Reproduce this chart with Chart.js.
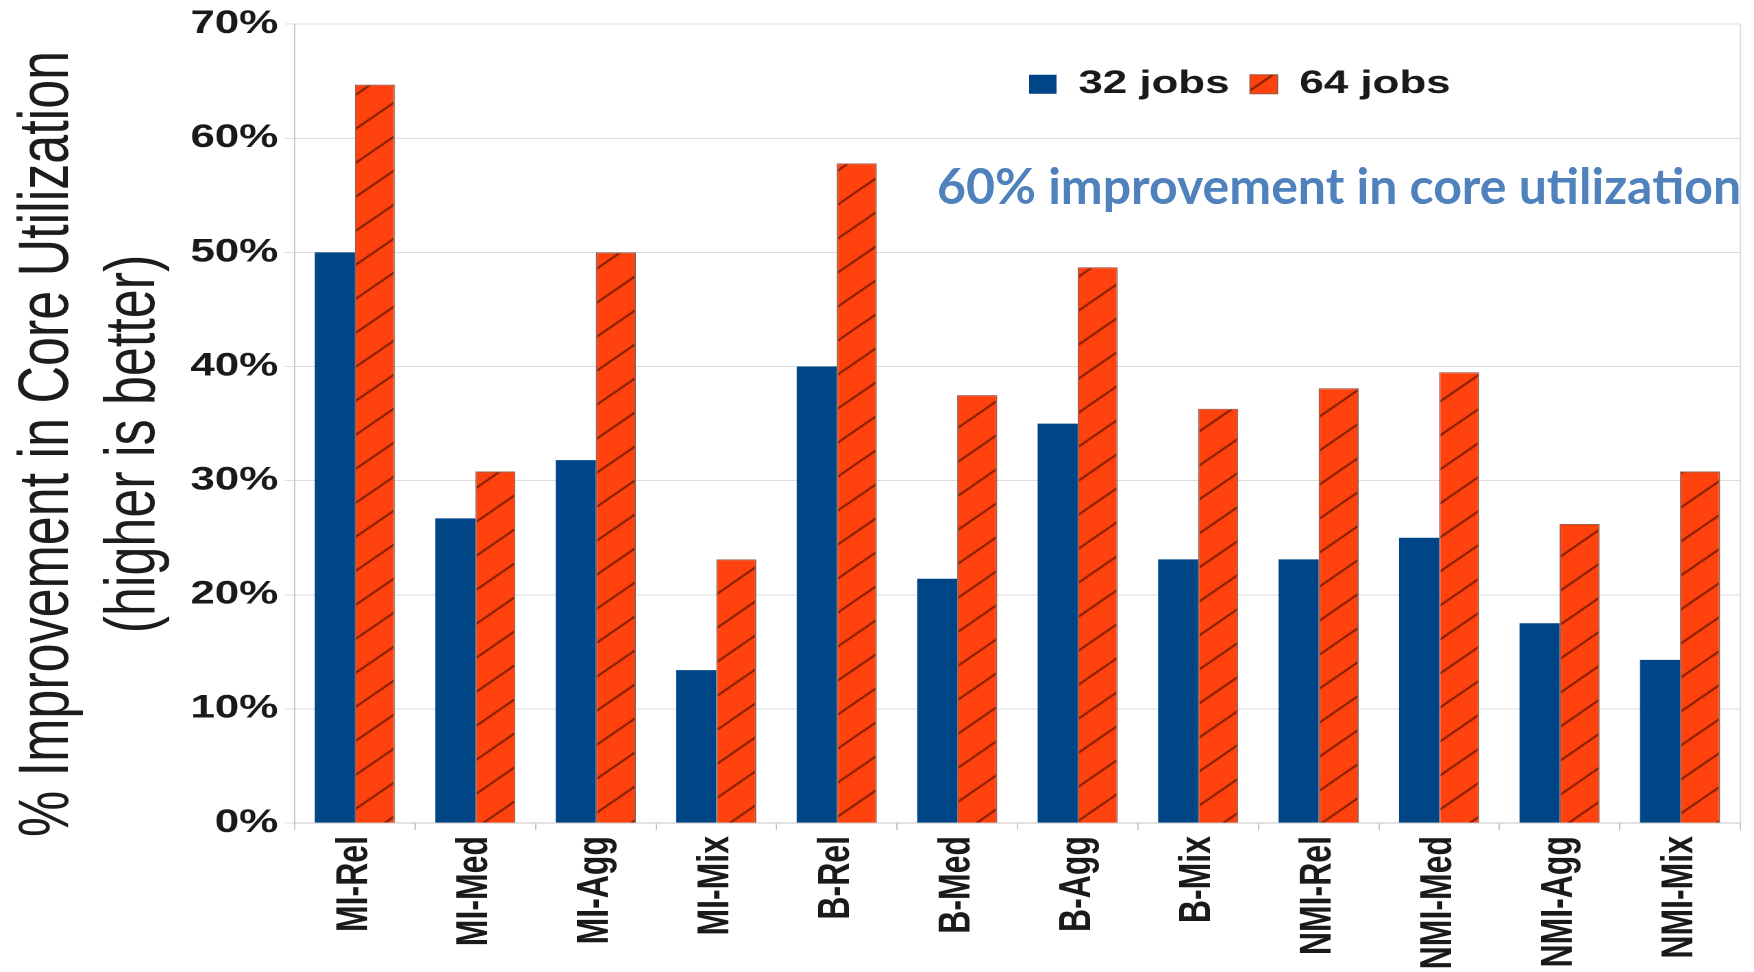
<!DOCTYPE html>
<html>
<head>
<meta charset="utf-8">
<script src="https://cdn.jsdelivr.net/npm/chart.js@4"></script>
<style>
    html, body { margin: 0; padding: 0; background: #fff; }
    body { width: 1754px; height: 972px; overflow: hidden; position: relative; }
    /* the chart is laid out narrower and stretched sideways */
    #wrap { position: absolute; left: 0; top: 0; width: 1280px; height: 972px; transform: scaleX(1.3703); transform-origin: 0 0; }
    #note { position: absolute; left: 937px; top: 160px; font: bold 50px Lato, "Open Sans", sans-serif; color: #4f81bd; white-space: nowrap; line-height: 1; }
</style>
</head>
<body>
<div id="wrap"><canvas id="utilChart"></canvas></div>
<div id="note">60% improvement in core utilization</div>
<script>
// Dane wykresu
const categories = ['MI-Rel', 'MI-Med', 'MI-Agg', 'MI-Mix', 'B-Rel', 'B-Med', 'B-Agg', 'B-Mix', 'NMI-Rel', 'NMI-Med', 'NMI-Agg', 'NMI-Mix'];
const jobs32 = [50.0, 26.7, 31.8, 13.4, 40.0, 21.4, 35.0, 23.1, 23.1, 25.0, 17.5, 14.3];
const jobs64 = [64.7, 30.8, 50.0, 23.1, 57.8, 37.5, 48.7, 36.3, 38.1, 39.5, 26.2, 30.8];
const seriesNames = ['32 jobs', '64 jobs'];
const yTickValues = [0, 10, 20, 30, 40, 50, 60, 70];
const yTitle = ['% Improvement in Core Utilization', '(higher is better)'];

Chart.defaults.font.family = '"Liberation Sans", Arial, sans-serif';
const boldFont = { family: '"Liberation Sans", Arial, sans-serif', size: 32, weight: 'bold' };

// Kreskowanie słupków 64 jobs
function hatch(fill, line) {
    const w = 36, h = 34;
    const c = document.createElement('canvas');
    c.width = w;
    c.height = h;
    const g = c.getContext('2d');
    g.fillStyle = fill;
    g.fillRect(0, 0, w, h);
    g.strokeStyle = line;
    g.lineWidth = 1.3;
    g.beginPath();
    for (const k of [-1, 0, 1]) {
        g.moveTo(-w, 2 * h + h * k);
        g.lineTo(2 * w, -h + h * k);
    }
    g.stroke();
    return g.createPattern(c, 'repeat');
}

// Tytuł osi Y w dwóch liniach
const yTitlePlugin = {
    id: 'yTitle',
    afterDraw(chart) {
        const ctx = chart.ctx;
        ctx.save();
        ctx.font = '52px "Liberation Sans", Arial, sans-serif';
        ctx.fillStyle = '#1c1c1c';
        ctx.textAlign = 'center';
        ctx.textBaseline = 'alphabetic';
        [49.6, 112.4].forEach((x, i) => {
            ctx.save();
            ctx.translate(x, 444);
            ctx.rotate(-Math.PI / 2);
            ctx.fillText(yTitle[i], 0, 0);
            ctx.restore();
        });
        ctx.restore();
    }
};

// Legenda w jednym rzędzie, przesunięta w obrębie obszaru wykresu
const legendShift = {
    id: 'legendShift',
    beforeLayout(chart) {
        chart.legend.isHorizontal = () => true;
    },
    afterLayout(chart) {
        const lg = chart.legend;
        lg.left += 736;
        lg.right += 736;
        lg.top += 29;
        lg.bottom += 29;
    }
};

const ctx = document.getElementById('utilChart').getContext('2d');

const chart = new Chart(ctx, {
    type: 'bar',
    data: {
        labels: categories,
        datasets: [{
            label: seriesNames[0],
            data: jobs32,
            backgroundColor: '#004586',
            borderWidth: 0
        }, {
            label: seriesNames[1],
            data: jobs64,
            backgroundColor: hatch('#ff420e', '#5a1500'),
            borderColor: '#9a5a48',
            borderWidth: 1
        }]
    },
    options: {
        responsive: true,
        maintainAspectRatio: false,
        devicePixelRatio: 2,
        animation: false,
        categoryPercentage: 0.665,
        barPercentage: 1.0,
        layout: { padding: { top: 22, right: 10, left: 0, bottom: 0 } },
        scales: {
            x: {
                afterFit: s => { s.height = 149; },
                ticks: { minRotation: 90, maxRotation: 90, autoSkip: false, padding: 6, font: boldFont, color: '#1a1a1a' },
                grid: {
                    offset: true,
                    tickLength: 7,
                    color: c => c.type === 'scale' ? '#dcdcdc' : 'rgba(0,0,0,0)',
                    tickColor: '#c4c4c4'
                },
                border: { color: '#c4c4c4', width: 1 }
            },
            y: {
                min: 0,
                max: 70,
                afterBuildTicks: s => { s.ticks = yTickValues.map(v => ({ value: v })); },
                afterFit: s => { s.width = 215; },
                ticks: { callback: v => v + '%', font: boldFont, color: '#1a1a1a', padding: 5 },
                grid: { color: '#dcdcdc', tickLength: 7, tickColor: '#dcdcdc' },
                border: { color: '#c4c4c4', width: 1 }
            }
        },
        plugins: {
            legend: {
                position: 'chartArea',
                align: 'start',
                labels: { boxWidth: 20, boxHeight: 19, padding: 15, color: '#1a1a1a', font: boldFont }
            },
            tooltip: { enabled: false }
        }
    },
    plugins: [yTitlePlugin, legendShift]
});
</script>
</body>
</html>
